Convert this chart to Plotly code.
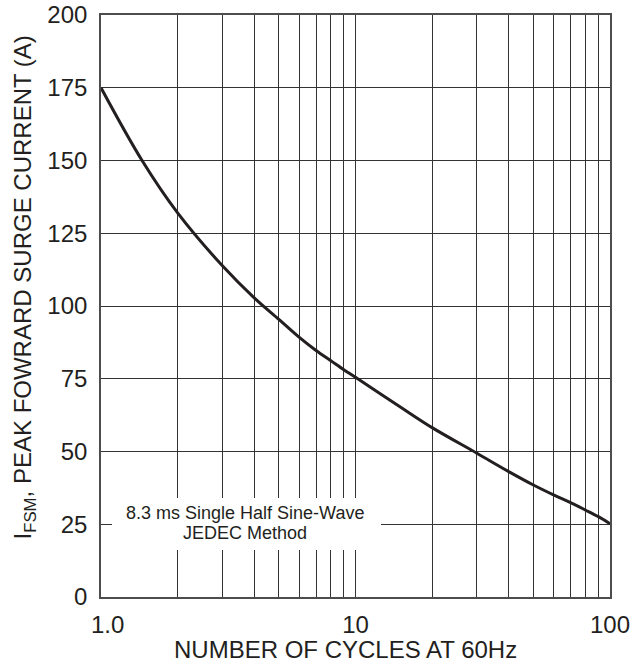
import plotly.graph_objects as go

cycles = [1, 1.45, 2, 3, 4, 5, 6, 7, 8, 9, 10, 15, 20, 30, 40, 50, 60, 70, 80, 90, 100]
current = [175, 150, 132, 113.8, 102.8, 95.4, 89.3, 84.7, 81.2, 78.1, 75.5, 65.3, 58.2, 49.4, 43.1, 38.5, 35.1, 32.4, 29.9, 27.6, 25.2]

x_grid = [1, 2, 3, 4, 5, 6, 7, 8, 9, 10, 20, 30, 40, 50, 60, 70, 80, 90, 100]
x_labels = {1: "\u00a0\u00a01.0", 10: "10", 100: "100"}
y_ticks = [0, 25, 50, 75, 100, 125, 150, 175, 200]

y_title = "I<sub>FSM</sub>, PEAK FOWRARD SURGE CURRENT (A)"
x_title = "NUMBER OF CYCLES AT 60Hz"
note_lines = ["8.3 ms Single Half Sine-Wave", "JEDEC Method"]

FONT = "Liberation Sans, Arial, sans-serif"
INK = "#231f20"

W, H = 644, 664
L, R, T, B = 101, 610, 15, 597
def px_x(p):
    return (p - L) / (R - L)
def px_y(p):
    return (B - p) / (B - T)

fig = go.Figure()
fig.add_trace(go.Scatter(
    x=cycles, y=current, mode="lines",
    line=dict(color=INK, width=3, shape="spline", smoothing=1.0),
    showlegend=False, hoverinfo="skip",
))

axis_common = dict(
    showgrid=True, gridcolor="#333333", gridwidth=1.1,
    showline=True, linecolor="#4d4d4d", linewidth=1.6, mirror=True,
    ticks="", zeroline=False, automargin=False, ticklabeloverflow="allow",
    tickfont=dict(family=FONT, size=24, color=INK),
)

fig.update_layout(
    width=W, height=H,
    margin=dict(l=L, r=W - R, t=T, b=H - B),
    paper_bgcolor="white", plot_bgcolor="white",
    font=dict(family=FONT, size=24, color=INK),
    xaxis=dict(
        type="log", range=[0, 2],
        tickvals=x_grid, ticktext=[x_labels.get(v, "") for v in x_grid],
        ticklabelstandoff=5,
        **axis_common,
    ),
    yaxis=dict(
        range=[0, 200], tickvals=y_ticks,
        ticklabelstandoff=7,
        **axis_common,
    ),
    shapes=[dict(
        type="rect", xref="paper", yref="paper", layer="above",
        x0=px_x(112), x1=px_x(381), y0=px_y(550), y1=px_y(498),
        fillcolor="white", line=dict(width=0),
    )],
    annotations=[
        dict(xref="paper", yref="paper", x=px_x(23.5), y=px_y(288),
             text=y_title, textangle=-90, showarrow=False,
             xanchor="center", yanchor="middle",
             font=dict(family=FONT, size=24, color=INK)),
        dict(xref="paper", yref="paper", x=px_x(345), y=px_y(650),
             text=x_title, showarrow=False,
             xanchor="center", yanchor="middle",
             font=dict(family=FONT, size=24, color=INK)),
        dict(xref="paper", yref="paper", x=px_x(245), y=px_y(513),
             text=note_lines[0], showarrow=False,
             xanchor="center", yanchor="middle",
             font=dict(family=FONT, size=18, color=INK)),
        dict(xref="paper", yref="paper", x=px_x(245), y=px_y(533),
             text=note_lines[1], showarrow=False,
             xanchor="center", yanchor="middle",
             font=dict(family=FONT, size=18, color=INK)),
    ],
)

fig.write_html(
    "out.html",
    config={"displayModeBar": False},
    post_script="document.body.style.margin='0';document.body.style.overflow='hidden';",
)
